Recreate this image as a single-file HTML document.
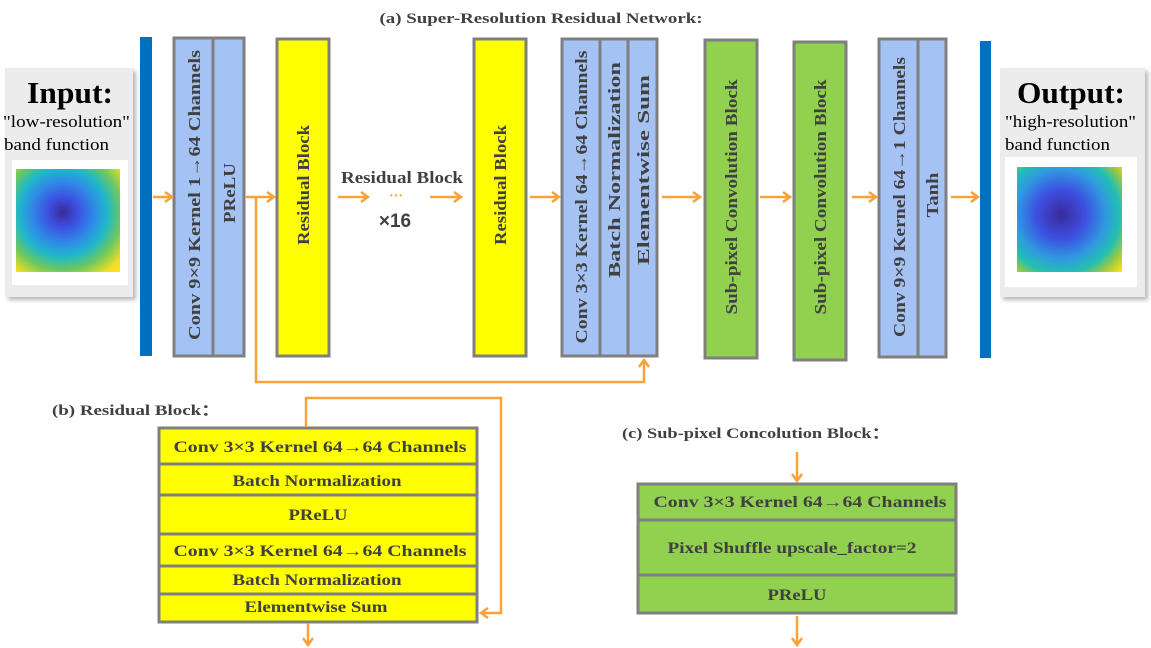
<!DOCTYPE html>
<html><head><meta charset="utf-8"><style>
html,body{margin:0;padding:0;background:#fff;}
svg{display:block;font-family:"Liberation Serif",serif;font-weight:bold;}
</style></head><body>
<svg width="1151" height="648" viewBox="0 0 1151 648" xmlns="http://www.w3.org/2000/svg">
<defs>
<marker id="ah" markerWidth="10" markerHeight="12" refX="8" refY="6" orient="auto" markerUnits="userSpaceOnUse">
<path d="M1,1 L8,6 L1,11" fill="none" stroke="#f9a23a" stroke-width="2.5"/>
</marker>
<filter id="sh" x="-10%" y="-10%" width="130%" height="130%"><feDropShadow dx="3" dy="3" stdDeviation="2" flood-color="#888" flood-opacity="0.6"/></filter>
<radialGradient id="g1" cx="0.45" cy="0.42" r="0.72">
<stop offset="0" stop-color="#3a2a9a"/><stop offset="0.2" stop-color="#3d4fe0"/><stop offset="0.42" stop-color="#2f8ae8"/><stop offset="0.6" stop-color="#20b8c8"/><stop offset="0.78" stop-color="#6cc860"/><stop offset="1" stop-color="#f8e020"/>
</radialGradient>
<radialGradient id="g2" cx="0.42" cy="0.45" r="0.78">
<stop offset="0" stop-color="#3a2a9a"/><stop offset="0.3" stop-color="#3d4fe0"/><stop offset="0.55" stop-color="#2f9ae0"/><stop offset="0.72" stop-color="#23c0b0"/><stop offset="0.86" stop-color="#9ec840"/><stop offset="1" stop-color="#f8e020"/>
</radialGradient>
</defs>

<text x="541" y="23" font-size="15" fill="#404040" text-anchor="middle" textLength="323" lengthAdjust="spacingAndGlyphs">(a) Super-Resolution Residual Network:</text>

<!-- input -->
<rect x="5" y="68" width="128" height="229" fill="#ececec" filter="url(#sh)"/>
<text x="27" y="103" font-size="31" fill="#000" textLength="86" lengthAdjust="spacingAndGlyphs">Input:</text>
<text x="3" y="127" font-size="17" font-weight="normal" fill="#000" font-family="Liberation Serif,serif" textLength="127" lengthAdjust="spacingAndGlyphs">"low-resolution"</text>
<text x="4" y="150" font-size="17" font-weight="normal" fill="#000" font-family="Liberation Serif,serif" textLength="105" lengthAdjust="spacingAndGlyphs">band function</text>
<rect x="12" y="160" width="116" height="125" fill="#fff"/>
<rect x="16" y="169" width="104" height="103" fill="url(#g1)"/>

<rect x="140" y="37" width="12" height="319" fill="#0070c0"/>

<!-- conv 9x9 -->
<rect x="174" y="38" width="70" height="318" fill="#a4c2f4" stroke="#7f7f7f" stroke-width="3"/>
<line x1="213" y1="38" x2="213" y2="356" stroke="#7f7f7f" stroke-width="3"/>
<text transform="translate(200,195) rotate(-90)" font-size="17" fill="#404040" text-anchor="middle" textLength="290" lengthAdjust="spacingAndGlyphs">Conv 9×9 Kernel   1→64 Channels</text>
<text transform="translate(235,193) rotate(-90)" font-size="17" fill="#404040" text-anchor="middle" textLength="60" lengthAdjust="spacingAndGlyphs">PReLU</text>

<rect x="277" y="39" width="52" height="317" fill="#ffff00" stroke="#7f7f7f" stroke-width="3"/>
<text transform="translate(309,185) rotate(-90)" font-size="17" fill="#404040" text-anchor="middle" textLength="120" lengthAdjust="spacingAndGlyphs">Residual Block</text>

<text x="402" y="183" font-size="17" fill="#404040" text-anchor="middle" textLength="122" lengthAdjust="spacingAndGlyphs">Residual Block</text>
<text x="396" y="200" font-size="14" fill="#f9a23a" text-anchor="middle">···</text>
<text x="395" y="227" font-size="19" font-family="Liberation Sans,sans-serif" fill="#404040" text-anchor="middle">×16</text>

<rect x="474" y="39" width="52" height="317" fill="#ffff00" stroke="#7f7f7f" stroke-width="3"/>
<text transform="translate(506,185) rotate(-90)" font-size="17" fill="#404040" text-anchor="middle" textLength="120" lengthAdjust="spacingAndGlyphs">Residual Block</text>

<!-- conv 3x3 -->
<rect x="562" y="39" width="95" height="317" fill="#a4c2f4" stroke="#7f7f7f" stroke-width="3"/>
<line x1="600" y1="39" x2="600" y2="356" stroke="#7f7f7f" stroke-width="3"/>
<line x1="628" y1="39" x2="628" y2="356" stroke="#7f7f7f" stroke-width="3"/>
<text transform="translate(587,197) rotate(-90)" font-size="17" fill="#404040" text-anchor="middle" textLength="293" lengthAdjust="spacingAndGlyphs">Conv 3×3 Kernel   64→64 Channels</text>
<text transform="translate(620,170) rotate(-90)" font-size="17" fill="#404040" text-anchor="middle" textLength="216" lengthAdjust="spacingAndGlyphs">Batch Normalization</text>
<text transform="translate(649,170) rotate(-90)" font-size="17" fill="#404040" text-anchor="middle" textLength="190" lengthAdjust="spacingAndGlyphs">Elementwise Sum</text>

<rect x="705" y="40" width="52" height="318" fill="#92d050" stroke="#7f7f7f" stroke-width="3"/>
<text transform="translate(737,197) rotate(-90)" font-size="17" fill="#404040" text-anchor="middle" textLength="235" lengthAdjust="spacingAndGlyphs">Sub-pixel Convolution Block</text>
<rect x="794" y="42" width="52" height="318" fill="#92d050" stroke="#7f7f7f" stroke-width="3"/>
<text transform="translate(826,197) rotate(-90)" font-size="17" fill="#404040" text-anchor="middle" textLength="235" lengthAdjust="spacingAndGlyphs">Sub-pixel Convolution Block</text>

<rect x="879" y="39" width="67" height="318" fill="#a4c2f4" stroke="#7f7f7f" stroke-width="3"/>
<line x1="918" y1="39" x2="918" y2="357" stroke="#7f7f7f" stroke-width="3"/>
<text transform="translate(905,197) rotate(-90)" font-size="17" fill="#404040" text-anchor="middle" textLength="280" lengthAdjust="spacingAndGlyphs">Conv 9×9 Kernel   64→1 Channels</text>
<text transform="translate(938,195) rotate(-90)" font-size="17" fill="#404040" text-anchor="middle" textLength="45" lengthAdjust="spacingAndGlyphs">Tanh</text>

<rect x="980" y="41" width="11" height="317" fill="#0070c0"/>

<!-- output -->
<rect x="1000" y="68" width="145" height="229" fill="#ececec" filter="url(#sh)"/>
<text x="1017" y="103" font-size="31" fill="#000" textLength="108" lengthAdjust="spacingAndGlyphs">Output:</text>
<text x="1005" y="127" font-size="17" font-weight="normal" fill="#000" font-family="Liberation Serif,serif" textLength="131" lengthAdjust="spacingAndGlyphs">"high-resolution"</text>
<text x="1005" y="150" font-size="17" font-weight="normal" fill="#000" font-family="Liberation Serif,serif" textLength="105" lengthAdjust="spacingAndGlyphs">band function</text>
<rect x="1005" y="157" width="132" height="130" fill="#fff"/>
<rect x="1017" y="167" width="105" height="105" fill="url(#g2)"/>

<!-- arrows top -->
<g stroke="#f9a23a" stroke-width="2.5" fill="none" marker-end="url(#ah)">
<line x1="153" y1="197" x2="172" y2="197"/>
<line x1="246" y1="197" x2="274" y2="197"/>
<line x1="338" y1="197" x2="368" y2="197"/>
<line x1="430" y1="197" x2="461" y2="197"/>
<line x1="530" y1="197" x2="559" y2="197"/>
<line x1="662" y1="197" x2="700" y2="197"/>
<line x1="760" y1="197" x2="790" y2="197"/>
<line x1="852" y1="197" x2="876" y2="197"/>
<line x1="951" y1="197" x2="978" y2="197"/>
<polyline points="256,197 256,382 644,382 644,360"/>
</g>

<!-- (b) -->
<text x="52" y="415" font-size="15" fill="#404040" textLength="168" lengthAdjust="spacingAndGlyphs">(b) Residual Block：</text>
<g stroke="#7f7f7f" stroke-width="3" fill="#ffff00">
<rect x="159" y="428" width="318" height="194"/>
<line x1="159" y1="464" x2="477" y2="464"/>
<line x1="159" y1="495" x2="477" y2="495"/>
<line x1="159" y1="534" x2="477" y2="534"/>
<line x1="159" y1="566" x2="477" y2="566"/>
<line x1="159" y1="594" x2="477" y2="594"/>
</g>
<g font-size="16" fill="#404040" text-anchor="middle">
<text x="320" y="452" textLength="293" lengthAdjust="spacingAndGlyphs">Conv 3×3 Kernel   64→64 Channels</text>
<text x="317" y="486" textLength="169" lengthAdjust="spacingAndGlyphs">Batch Normalization</text>
<text x="318" y="520" textLength="59" lengthAdjust="spacingAndGlyphs">PReLU</text>
<text x="320" y="556" textLength="293" lengthAdjust="spacingAndGlyphs">Conv 3×3 Kernel   64→64 Channels</text>
<text x="317" y="585" textLength="169" lengthAdjust="spacingAndGlyphs">Batch Normalization</text>
<text x="316" y="612" textLength="143" lengthAdjust="spacingAndGlyphs">Elementwise Sum</text>
</g>
<g stroke="#f9a23a" stroke-width="2.5" fill="none">
<polyline points="306,427 306,398 501,398 501,613 481,613" marker-end="url(#ah)"/>
<line x1="308" y1="623" x2="308" y2="645" marker-end="url(#ah)"/>
</g>

<!-- (c) -->
<text x="622" y="438" font-size="15" fill="#404040" textLength="268" lengthAdjust="spacingAndGlyphs">(c) Sub-pixel Concolution Block：</text>
<g stroke="#7f7f7f" stroke-width="3" fill="#92d050">
<rect x="638" y="484" width="318" height="129"/>
<line x1="638" y1="520" x2="956" y2="520"/>
<line x1="638" y1="575" x2="956" y2="575"/>
</g>
<g font-size="16" fill="#404040" text-anchor="middle">
<text x="800" y="507" textLength="293" lengthAdjust="spacingAndGlyphs">Conv 3×3 Kernel   64→64 Channels</text>
<text x="792" y="553" textLength="249" lengthAdjust="spacingAndGlyphs">Pixel Shuffle upscale_factor=2</text>
<text x="797" y="600" textLength="59" lengthAdjust="spacingAndGlyphs">PReLU</text>
</g>
<g stroke="#f9a23a" stroke-width="2.5" fill="none" marker-end="url(#ah)">
<line x1="797" y1="452" x2="797" y2="481"/>
<line x1="797" y1="616" x2="797" y2="645"/>
</g>
</svg>
</body></html>
